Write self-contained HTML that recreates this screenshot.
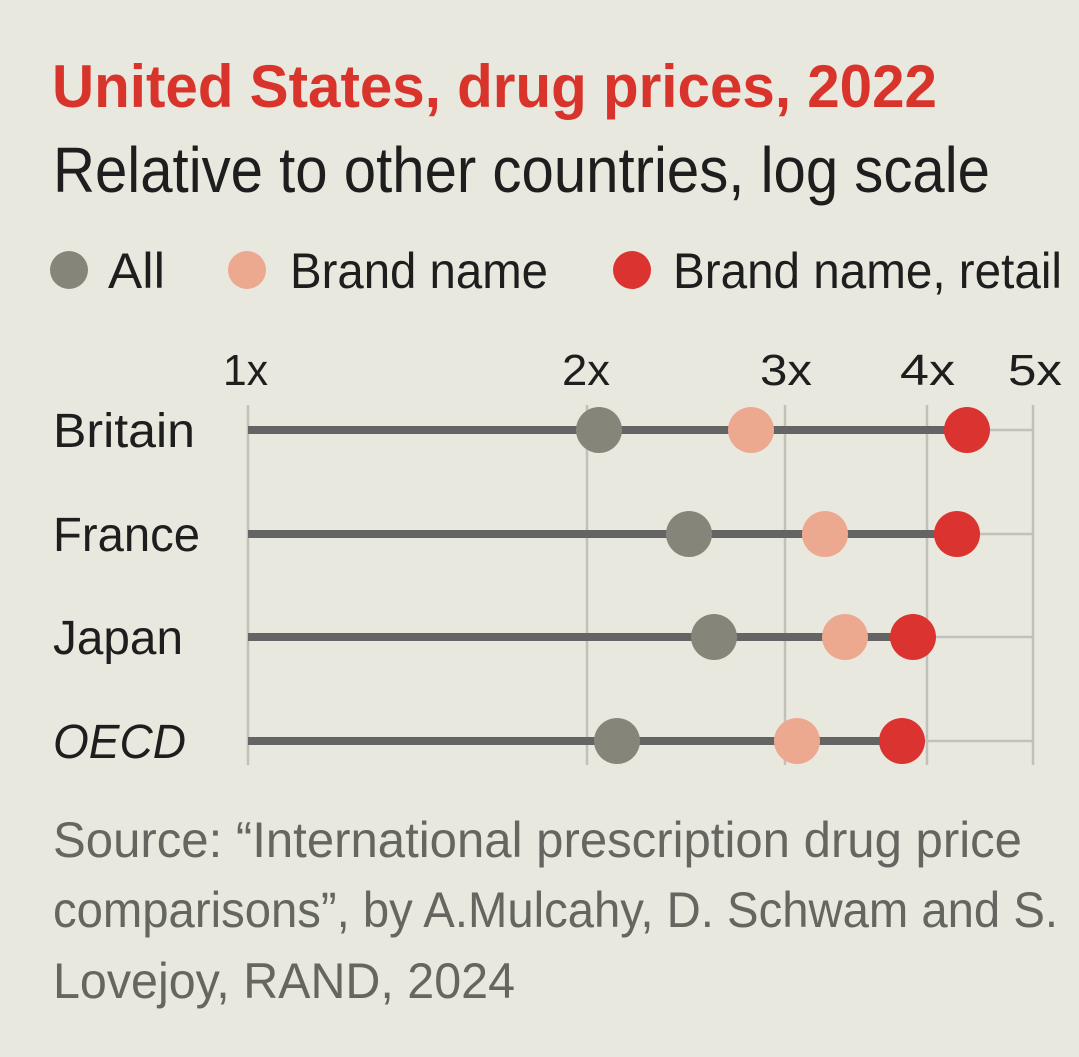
<!DOCTYPE html>
<html><head><meta charset="utf-8"><style>
html,body{margin:0;padding:0;background:#e9e8de;}
svg{display:block;}
text{font-family:"Liberation Sans",sans-serif;}
</style></head><body>
<svg width="1079" height="1057" viewBox="0 0 1079 1057" xmlns="http://www.w3.org/2000/svg">
<rect width="1079" height="1057" fill="#e9e8de"/>
<text x="52" y="107" font-size="60" font-weight="bold" fill="#d9342c" textLength="885" lengthAdjust="spacingAndGlyphs">United States, drug prices, 2022</text>
<text x="53" y="192" font-size="64" fill="#1e1e1e" textLength="937" lengthAdjust="spacingAndGlyphs">Relative to other countries, log scale</text>
<circle cx="69" cy="270" r="19" fill="#85857a"/>
<text x="108" y="288" font-size="50" fill="#1e1e1e" textLength="57" lengthAdjust="spacingAndGlyphs">All</text>
<circle cx="247" cy="270" r="19" fill="#eda890"/>
<text x="290" y="288" font-size="50" fill="#1e1e1e" textLength="258" lengthAdjust="spacingAndGlyphs">Brand name</text>
<circle cx="632" cy="270" r="19" fill="#da3330"/>
<text x="673" y="288" font-size="50" fill="#1e1e1e" textLength="389" lengthAdjust="spacingAndGlyphs">Brand name, retail</text>
<g stroke="#c2c1b9" stroke-width="2.5">
<line x1="248" y1="405" x2="248" y2="765"/>
<line x1="587" y1="405" x2="587" y2="765"/>
<line x1="785" y1="405" x2="785" y2="765"/>
<line x1="927" y1="405" x2="927" y2="765"/>
<line x1="1033" y1="405" x2="1033" y2="765"/>
<line x1="248" y1="430" x2="1033" y2="430"/>
<line x1="248" y1="534" x2="1033" y2="534"/>
<line x1="248" y1="637" x2="1033" y2="637"/>
<line x1="248" y1="741" x2="1033" y2="741"/>
</g>
<g font-size="44" fill="#1e1e1e">
<text x="223" y="385" textLength="45" lengthAdjust="spacingAndGlyphs">1x</text>
<text x="562" y="385" textLength="48" lengthAdjust="spacingAndGlyphs">2x</text>
<text x="760" y="385" textLength="52" lengthAdjust="spacingAndGlyphs">3x</text>
<text x="900" y="385" textLength="55" lengthAdjust="spacingAndGlyphs">4x</text>
<text x="1008" y="385" textLength="54" lengthAdjust="spacingAndGlyphs">5x</text>
</g>
<g font-size="48" fill="#1e1e1e">
<text x="53" y="447" textLength="142" lengthAdjust="spacingAndGlyphs">Britain</text>
<text x="53" y="551" textLength="147" lengthAdjust="spacingAndGlyphs">France</text>
<text x="53" y="654" textLength="130" lengthAdjust="spacingAndGlyphs">Japan</text>
<text x="53" y="758" font-style="italic" textLength="133" lengthAdjust="spacingAndGlyphs">OECD</text>
</g>
<g stroke="#646464" stroke-width="8">
<line x1="248" y1="430" x2="967" y2="430"/>
<line x1="248" y1="534" x2="957" y2="534"/>
<line x1="248" y1="637" x2="913" y2="637"/>
<line x1="248" y1="741" x2="902" y2="741"/>
</g>
<g>
<circle cx="599" cy="430" r="23" fill="#85857a"/><circle cx="751" cy="430" r="23" fill="#eda890"/><circle cx="967" cy="430" r="23" fill="#da3330"/>
<circle cx="689" cy="534" r="23" fill="#85857a"/><circle cx="825" cy="534" r="23" fill="#eda890"/><circle cx="957" cy="534" r="23" fill="#da3330"/>
<circle cx="714" cy="637" r="23" fill="#85857a"/><circle cx="845" cy="637" r="23" fill="#eda890"/><circle cx="913" cy="637" r="23" fill="#da3330"/>
<circle cx="617" cy="741" r="23" fill="#85857a"/><circle cx="797" cy="741" r="23" fill="#eda890"/><circle cx="902" cy="741" r="23" fill="#da3330"/>
</g>
<g font-size="50" fill="#666661">
<text x="53" y="857" textLength="969" lengthAdjust="spacingAndGlyphs">Source: “International prescription drug price</text>
<text x="53" y="927" textLength="1005" lengthAdjust="spacingAndGlyphs">comparisons”, by A.Mulcahy, D. Schwam and S.</text>
<text x="53" y="998" textLength="462" lengthAdjust="spacingAndGlyphs">Lovejoy, RAND, 2024</text>
</g>
</svg>
</body></html>
